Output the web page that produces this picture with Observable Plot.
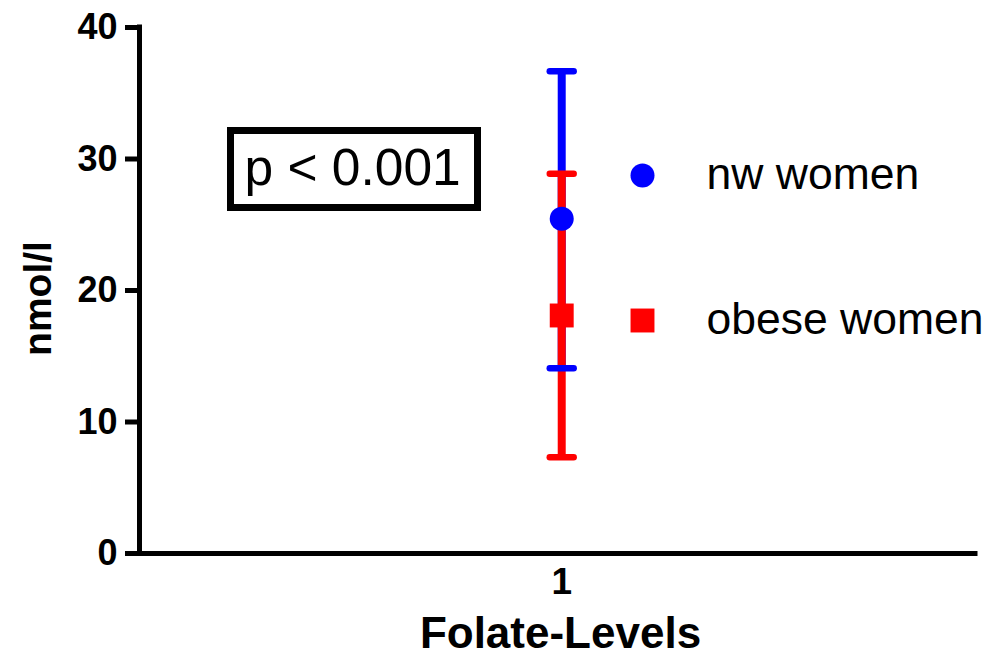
<!DOCTYPE html>
<html>
<head>
<meta charset="utf-8">
<script src="https://cdn.jsdelivr.net/npm/d3@7"></script>
<script src="https://cdn.jsdelivr.net/npm/@observablehq/plot@0.6"></script>
<style>
  html, body { margin: 0; padding: 0; background: white; }
  #chart { width: 987px; height: 656px; }
</style>
</head>
<body>
<div id="chart"></div>
<script>
// ---- data ----
const categories = ["nw women", "obese women"];
const means = [25.45, 18.1];
const upper = [36.68, 28.87];
const lower = [14.09, 7.32];
const groupX = [1, 1];
const colors = ["#0000ff", "#ff0000"];
const symbols = ["circle", "square"];
const yTicks = [0, 10, 20, 30, 40];
const xTicks = [1];
const xTickLabels = ["1"];
const xTitle = "Folate-Levels";
const yTitle = "nmol/l";
const pLabel = "p < 0.001";

const data = categories.map((c, i) => ({
  name: c, x: groupX[i], mean: means[i], lo: lower[i], hi: upper[i]
}));

const capSymbol = {
  draw(ctx, size) {
    const w = Math.sqrt(size) / 2;
    ctx.moveTo(-w, 0);
    ctx.lineTo(w, 0);
  }
};

const font = "'Liberation Sans', Arial, sans-serif";

const chart = Plot.plot({
  width: 987,
  height: 656,
  marginTop: 27,
  marginBottom: 103,
  marginLeft: 139,
  marginRight: 12,
  style: { fontFamily: font, background: "white", color: "black", overflow: "visible" },
  x: { domain: [0, 1.98], axis: null },
  y: { domain: [0, 40], axis: null },
  marks: [
    Plot.axisY({
      ticks: yTicks, tickSize: 14, tickPadding: 8, strokeWidth: 5,
      fontSize: 36, fontWeight: "bold", label: null, tickFormat: d => String(d)
    }),
    Plot.axisX({
      ticks: xTicks, tickSize: 0, tickPadding: 14,
      fontSize: 37, fontWeight: "bold", label: null,
      tickFormat: d => xTickLabels[xTicks.indexOf(d)]
    }),
    Plot.ruleX([0], { stroke: "black", strokeWidth: 5, strokeLinecap: "square" }),
    Plot.ruleY([0], { stroke: "black", strokeWidth: 5, strokeLinecap: "square" }),
    // error bar lines
    ...data.map((d, i) => Plot.ruleX([d], { x: "x", y1: "lo", y2: "hi", stroke: colors[i], strokeWidth: 8 })),
    // caps
    ...data.map((d, i) => Plot.dot([d], { x: "x", y: "hi", symbol: capSymbol, r: 13.5, stroke: colors[i], fill: "none", strokeWidth: 6.5, strokeLinecap: "round" })),
    ...data.map((d, i) => Plot.dot([d], { x: "x", y: "lo", symbol: capSymbol, r: 13.5, stroke: colors[i], fill: "none", strokeWidth: 6.5, strokeLinecap: "round" })),
    // means
    ...data.map((d, i) => Plot.dot([d], { x: "x", y: "mean", symbol: symbols[i], r: symbols[i] === "square" ? 13.5 : 12, fill: colors[i], stroke: "none" })),
    // legend
    ...data.map((d, i) => Plot.dot([d], { frameAnchor: "top-left", dx: 503, dy: 148 + i * 145, symbol: symbols[i], r: symbols[i] === "square" ? 13.5 : 12, fill: colors[i], stroke: "none" })),
    ...data.map((d, i) => Plot.text([d], { frameAnchor: "top-left", dx: 567, dy: 147 + i * 145, text: "name", textAnchor: "start", lineAnchor: "middle", fontSize: 44.5, fill: "black" })),
    // p value
    Plot.text([pLabel], { frameAnchor: "top-left", dx: 105, dy: 141, textAnchor: "start", lineAnchor: "middle", fontSize: 51.5, fill: "black" }),
    // axis titles
    Plot.text([xTitle], { frameAnchor: "bottom", dx: 3, dy: 80, fontSize: 44, fontWeight: "bold", lineAnchor: "middle", fill: "black" }),
    Plot.text([yTitle], { frameAnchor: "left", dx: -101, dy: 8, rotate: -90, fontSize: 39, fontWeight: "bold", lineAnchor: "middle", textAnchor: "middle", fill: "black" })
  ]
});

// p-value box outline
d3.select(chart).append("rect")
  .attr("x", 230.5).attr("y", 130.5).attr("width", 247).attr("height", 77)
  .attr("fill", "none").attr("stroke", "black").attr("stroke-width", 7);

document.getElementById("chart").appendChild(chart);
</script>
</body>
</html>
